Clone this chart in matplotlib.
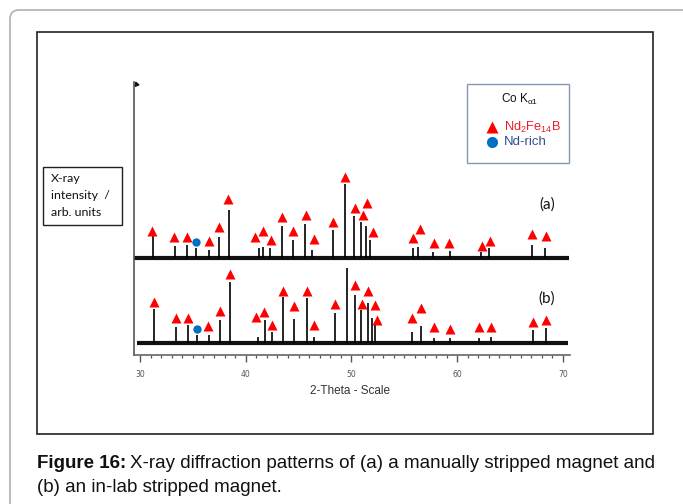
import numpy as np
import matplotlib
matplotlib.use('Agg')
import matplotlib.pyplot as plt
from matplotlib.patches import Rectangle, FancyBboxPatch

plt.rcParams['mathtext.fontset'] = 'custom'
plt.rcParams['mathtext.rm'] = 'Liberation Sans'
plt.rcParams['mathtext.it'] = 'Liberation Sans'

# +++ data: peak positions (2-theta) and heights (arb. units above baseline) +++
aPeakPos = [31.26, 33.3, 34.4, 35.3, 36.5, 37.5, 38.4, 41.3, 41.6, 42.3, 43.4, 44.5, 45.6, 46.3,
            48.3, 49.4, 50.2, 50.9, 51.35, 51.8, 55.8, 56.3, 57.75, 59.3, 62.3, 63.0, 67.05, 68.3]
aPeakInt = [23, 12, 13, 10, 8, 21, 48, 10, 11, 10, 32, 18, 34, 8,
            28, 74, 42, 36, 32, 18, 10, 11, 6, 7, 6, 10, 13, 10]

bPeakPos = [31.35, 33.4, 34.5, 35.4, 36.5, 37.6, 38.5, 41.2, 41.8, 42.5, 43.5, 44.6, 45.8, 46.5,
            48.45, 49.55, 50.35, 50.95, 51.55, 51.9, 52.2, 55.75, 56.55, 57.8, 59.3, 62.05, 63.2, 67.15, 68.4]
bPeakInt = [34, 16, 18, 8, 8, 23, 61, 6, 23, 11, 46, 24, 45, 6,
            30, 75, 48, 33, 40, 25, 20, 11, 17, 5, 5, 5, 6, 13, 15]

# Nd2Fe14B markers
aTriPos = [31.16, 33.22, 34.45, 36.5, 37.45, 38.33, 40.9, 41.66, 42.37, 43.43, 44.47, 45.73, 46.43,
           48.29, 49.37, 50.34, 51.07, 51.5, 52.01, 55.86, 56.49, 57.79, 59.26, 62.38, 63.14, 67.11, 68.38]
aTriInt = [27, 21, 21, 17, 31, 59, 21, 27, 18, 41, 27, 43, 19,
           36, 81, 50, 43, 55, 26, 20, 29, 15, 15, 12, 17, 24, 22]
bTriPos = [31.35, 33.4, 34.5, 36.46, 37.6, 38.5, 40.95, 41.76, 42.46, 43.5, 44.6, 45.77, 46.5,
           48.45, 50.34, 50.97, 51.6, 52.23, 52.45, 55.76, 56.56, 57.81, 59.33, 62.07, 63.21, 67.15, 68.41]
bTriInt = [41, 25, 25, 17, 32, 69, 26, 31, 18, 52, 37, 52, 18,
           39, 58, 39, 52, 38, 23, 25, 35, 16, 14, 16, 16, 21, 23]

# Nd-rich markers
aNdPos = [35.3]
aNdInt = [16]
bNdPos = [35.36]
bNdInt = [14]

aRange = [29.45, 70.6]
bRange = [29.7, 70.5]
aOffset = 97
bOffset = 12

# +++ figure +++
W, H = 683, 504
fig = plt.figure(figsize=(W / 100, H / 100), dpi=100)

bg = fig.add_axes([0, 0, 1, 1])
bg.set_xlim(0, W)
bg.set_ylim(H, 0)
bg.axis('off')

bg.add_patch(FancyBboxPatch((10, 10), 720, 540, boxstyle='round,pad=0,rounding_size=9',
                            fill=False, edgecolor='#b0b0b0', lw=1.2))
bg.add_patch(Rectangle((37, 32), 616, 402, fill=False, edgecolor='#222222', lw=1.2))

# y label box
bg.add_patch(Rectangle((43, 167), 79, 58, fill=False, edgecolor='#222222', lw=1.0))
for i, line in enumerate(['X-ray', 'intensity  /', 'arb. units']):
  bg.text(51, 179 + i * 16.5, line, fontsize=8.9, family='Lato', color='#111111', va='center', ha='left')

# legend box
bg.add_patch(Rectangle((467, 84), 102, 79, fill=False, edgecolor='#8597b5', lw=1.0))
bg.text(520, 99, r'Co K$_{\alpha1}$', fontsize=8.5, family='Liberation Sans', color='#111111', ha='center', va='center')
bg.plot([492], [127], '^', color='#ff0000', ms=9, mec='none')
bg.plot([492], [142], 'o', color='#0070c0', ms=8, mec='none')
bg.text(504, 127, r'Nd$_2$Fe$_{14}$B', fontsize=9.2, family='Liberation Sans', color='#ee1c25', ha='left', va='center')
bg.text(504, 142, 'Nd-rich', fontsize=9.5, family='Liberation Sans', color='#2f4f8f', ha='left', va='center')

# y-axis arrow head
bg.plot([135.5], [84], marker=(3, 0, 20), color='#111111', ms=3.5)

# +++ main axes +++
x0, x1, y0, y1 = 134, 570, 82, 355
ax = fig.add_axes([x0 / W, (H - y1) / H, (x1 - x0) / W, (y1 - y0) / H])
ax.set_xlim(29.43, 70.68)
ax.set_ylim(0, y1 - y0)
ax.patch.set_alpha(0)
for s in ['top', 'right']:
  ax.spines[s].set_visible(False)
ax.spines['left'].set_color('#555555')
ax.spines['bottom'].set_color('#666666')
ax.spines['left'].set_linewidth(1.2)
ax.spines['bottom'].set_linewidth(1.2)
ax.set_yticks([])
ax.set_xticks([30, 40, 50, 60, 70])
ax.set_xticks(np.arange(30, 71, 1), minor=True)
ax.tick_params(axis='x', which='major', direction='out', length=5, width=1, color='#555555',
               labelsize=5.5, labelcolor='#555555', pad=6)
ax.tick_params(axis='x', which='minor', direction='out', length=2.5, width=0.9, color='#555555')

for pos, inten, rng, off in [(aPeakPos, aPeakInt, aRange, aOffset), (bPeakPos, bPeakInt, bRange, bOffset)]:
  ax.hlines(off, rng[0], rng[1], color='#111111', lw=3.0)
  ax.vlines(pos, off, np.array(inten) + off, color='black', lw=1.2)

for pos, inten, off in [(aTriPos, aTriInt, aOffset), (bTriPos, bTriInt, bOffset)]:
  ax.plot(pos, np.array(inten) + off, '^', color='#ff0000', ms=7.5, mec='none', clip_on=False)
for pos, inten, off in [(aNdPos, aNdInt, aOffset), (bNdPos, bNdInt, bOffset)]:
  ax.plot(pos, np.array(inten) + off, 'o', color='#0070c0', ms=6, mec='none', clip_on=False)

bg.text(547, 205, '(a)', fontsize=11, family='Lato', color='#111111', ha='center', va='center')
bg.text(547, 299, '(b)', fontsize=11, family='Lato', color='#111111', ha='center', va='center')
bg.text(350, 391, '2-Theta - Scale', fontsize=8.5, family='Liberation Sans', color='#333333', ha='center', va='center')

# +++ caption +++
capBold = bg.text(37, 464, 'Figure 16:', fontsize=13.5, family='Liberation Sans', weight='bold',
                  color='#111111', ha='left', va='center')
fig.canvas.draw()
ext = capBold.get_window_extent().transformed(bg.transData.inverted())
bg.text(ext.x1 + 4, 464, 'X-ray diffraction patterns of (a) a manually stripped magnet and',
        fontsize=13.5, family='Liberation Sans', color='#111111', ha='left', va='center')
bg.text(37, 488, '(b) an in-lab stripped magnet.', fontsize=13.5, family='Liberation Sans',
        color='#111111', ha='left', va='center')

fig.savefig('out.png', dpi=100)
